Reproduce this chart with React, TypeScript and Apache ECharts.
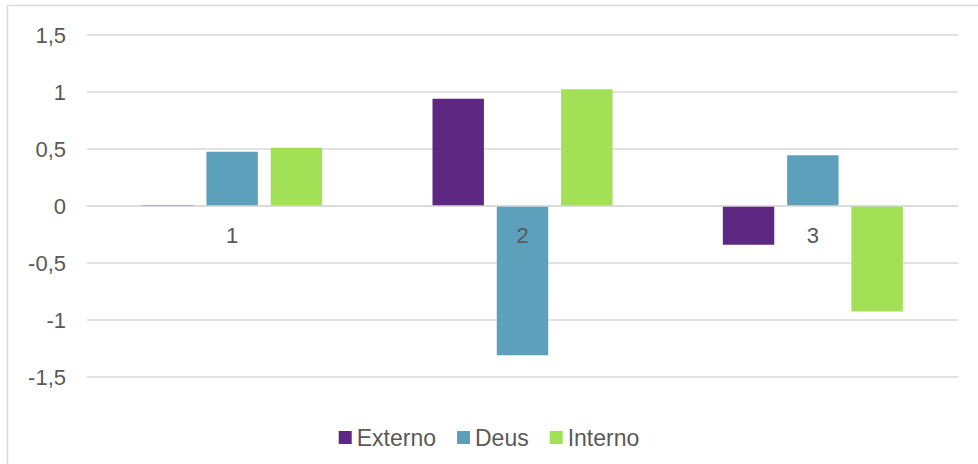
import React, { useEffect, useRef } from "react";
import * as echarts from "echarts";

// Category labels along the horizontal axis
const categories = ["1", "2", "3"];

// Series values per category
const externo = [0.008, 0.94, -0.34];
const deus = [0.475, -1.31, 0.445];
const interno = [0.51, 1.025, -0.925];

// Value axis range
const yMin = -1.5;
const yMax = 1.5;
const yStep = 0.5;

const FONT = "'Liberation Sans', Arial, sans-serif";
const TEXT = "#595959";
const GRID_LINE = "#d9d9d9";

// Plot area box (px)
const GRID_TOP = 35;
const GRID_BOTTOM = 87;
const CHART_H = 464;

export default function App() {
  const ref = useRef<HTMLDivElement>(null);

  useEffect(() => {
    if (!ref.current) return;
    const chart = echarts.init(ref.current, undefined, { renderer: "svg" });
    // The category axis sits on the zero line, in the middle of the value range
    const plotH = CHART_H - GRID_TOP - GRID_BOTTOM;
    const zeroFromBottom = (plotH * (0 - yMin)) / (yMax - yMin);
    chart.setOption({
      animation: false,
      backgroundColor: "#ffffff",
      textStyle: { fontFamily: FONT },
      graphic: [
        {
          type: "rect",
          shape: { x: 7.5, y: 5.5, width: 1000, height: 500 },
          style: { fill: "none", stroke: GRID_LINE, lineWidth: 1.5 },
          silent: true,
        },
      ],
      grid: { left: 87, right: 20, top: GRID_TOP, bottom: GRID_BOTTOM },
      legend: {
        bottom: 10,
        left: "center",
        icon: "rect",
        itemWidth: 13,
        itemHeight: 13,
        itemGap: 21,
        textStyle: { color: TEXT, fontSize: 23, fontFamily: FONT },
        data: ["Externo", "Deus", "Interno"],
      },
      xAxis: {
        type: "category",
        data: categories,
        position: "bottom",
        offset: -zeroFromBottom,
        z: 5,
        axisLine: { onZero: false, lineStyle: { color: GRID_LINE, width: 1.5 } },
        axisTick: { show: false },
        axisLabel: { color: TEXT, fontSize: 22, margin: 18, fontFamily: FONT },
      },
      yAxis: {
        type: "value",
        min: yMin,
        max: yMax,
        interval: yStep,
        axisLine: { show: false },
        axisTick: { show: false },
        axisLabel: {
          color: TEXT,
          fontSize: 22,
          margin: 21,
          fontFamily: FONT,
          formatter: (v: number) => String(v).replace(".", ","),
        },
        splitLine: { lineStyle: { color: GRID_LINE, width: 1.5 } },
      },
      series: [
        {
          name: "Externo",
          type: "bar",
          data: externo,
          itemStyle: { color: "#5D2782" },
          barGap: "25%",
          barCategoryGap: "38%",
        },
        {
          name: "Deus",
          type: "bar",
          data: deus,
          itemStyle: { color: "#5CA0BC" },
        },
        {
          name: "Interno",
          type: "bar",
          data: interno,
          itemStyle: { color: "#A2E055" },
        },
      ],
    });
    return () => chart.dispose();
  }, []);

  return (
    <div
      ref={ref}
      style={{ position: "fixed", left: 0, top: 0, width: 978, height: 464 }}
    />
  );
}
